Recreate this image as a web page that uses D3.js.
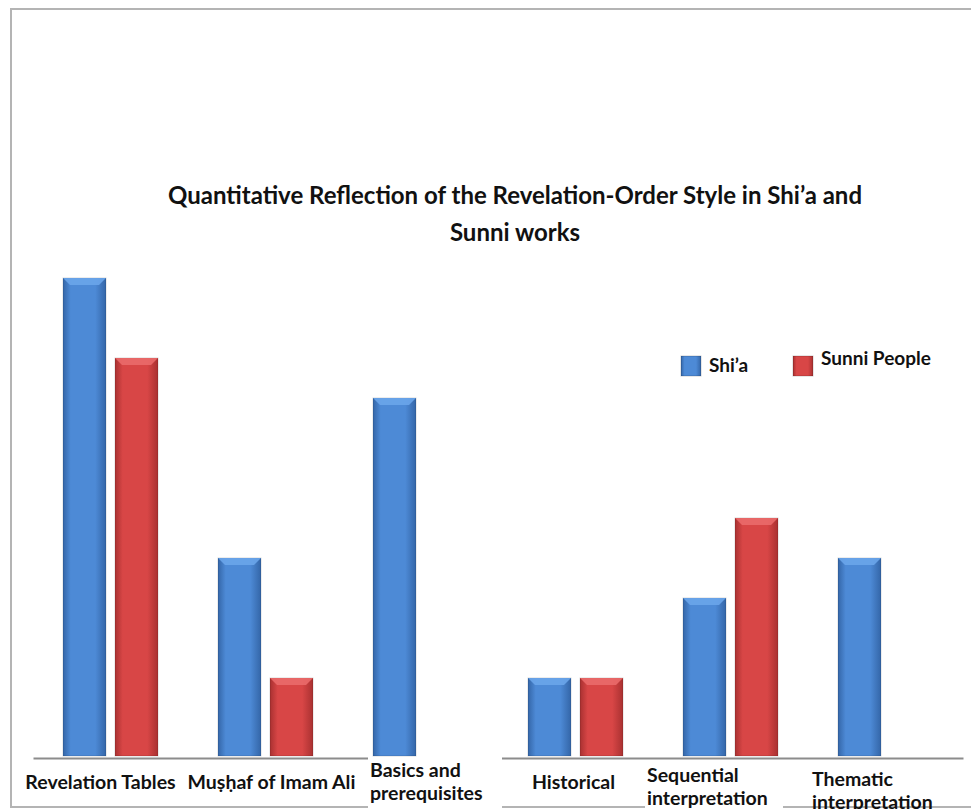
<!DOCTYPE html>
<html>
<head>
<meta charset="utf-8">
<script src="https://cdn.jsdelivr.net/npm/d3@7"></script>
<style>
  body { margin: 0; background: #fff; }
  text { font-family: Lato, "Open Sans", sans-serif; font-weight: bold; fill: #111; }
</style>
</head>
<body>
<div id="chart"></div>
<script>
// data
var categories = ["Revelation Tables", "Mushaf of Imam Ali", "Basics and prerequisites",
                  "Historical", "Sequential interpretation", "Thematic interpretation"];
var labelLines = [["Revelation Tables"], ["Mu\u1E63\u1E25af of Imam Ali"], ["Basics and", "prerequisites"],
                  ["Historical"], ["Sequential", "interpretation"], ["Thematic", "interpretation"]];
var seriesNames = ["Shi\u2019a", "Sunni People"];
var shiaValues  = [12, 5, 9, 2, 4, 5];
var sunniValues = [10, 2, 0, 2, 6, 0];
var titleLines = ["Quantitative Reflection of the Revelation-Order Style in Shi\u2019a and", "Sunni works"];

var width = 971, height = 809;

var svg = d3.select("#chart").append("svg")
  .attr("width", width)
  .attr("height", height);

//Gradients for the bevelled bars
var defs = svg.append("defs");
var palettes = [
  {id: "gBlue", edge: "#3466a8", mid: "#4d8ad6"},
  {id: "gRed",  edge: "#a93131", mid: "#d84646"}
];
palettes.forEach(function(p){
  var g = defs.append("linearGradient").attr("id", p.id)
    .attr("x1", "0%").attr("x2", "100%").attr("y1", "0%").attr("y2", "0%");
  g.append("stop").attr("offset", "0%").attr("stop-color", p.edge);
  g.append("stop").attr("offset", "18%").attr("stop-color", p.mid);
  g.append("stop").attr("offset", "75%").attr("stop-color", p.mid);
  g.append("stop").attr("offset", "100%").attr("stop-color", p.edge);
});

//Frame (left, top, bottom)
var frame = svg.append("g").attr("fill", "none").attr("stroke", "#b4b4b4").attr("stroke-width", 2);
frame.append("path").attr("d", "M11,808 L11,9 L971,9");
frame.append("path").attr("d", "M11,807 L971,807");

//Scales
var x0 = d3.scaleBand().domain(categories).range([33, 963]);
var x1 = d3.scaleBand().domain(seriesNames).range([30, 125]).paddingInner(9 / 52);
var y = d3.scaleLinear().domain([0, 12]).range([758, 278]);

//Axis line
svg.append("g")
  .attr("transform", "translate(0," + y(0) + ")")
  .call(d3.axisBottom(x0).tickSize(0).tickFormat(""))
  .call(function(g){ g.select(".domain").attr("stroke", "#8c8c8c").attr("stroke-width", 2); });

//Bars
var rows = categories.map(function(c, i){
  return [{cat: c, s: seriesNames[0], v: shiaValues[i], fill: "gBlue", top: "#6aa5ea"},
          {cat: c, s: seriesNames[1], v: sunniValues[i], fill: "gRed", top: "#ea6a6a"}];
});
var bars = svg.selectAll("g.bar")
  .data(d3.merge(rows).filter(function(d){ return d.v > 0; }))
  .enter().append("g").attr("class", "bar");

bars.append("rect")
  .attr("x", function(d){ return x0(d.cat) + x1(d.s); })
  .attr("y", function(d){ return y(d.v); })
  .attr("width", x1.bandwidth())
  .attr("height", function(d){ return y(0) - y(d.v) - 2; })
  .attr("fill", function(d){ return "url(#" + d.fill + ")"; })
  .attr("stroke", "rgba(0,0,0,0.15)");

//top bevel
bars.append("path")
  .attr("d", function(d){
    var bx = x0(d.cat) + x1(d.s), by = y(d.v), w = x1.bandwidth();
    return "M" + bx + "," + by + "L" + (bx + w) + "," + by +
      "L" + (bx + w - 7) + "," + (by + 7) + "L" + (bx + 7) + "," + (by + 7) + "Z";
  })
  .attr("fill", function(d){ return d.top; })
  .attr("opacity", 0.9);

//Category labels (white boxes hide the lines behind them)
var labelPos = [
  {anchor: "middle", dx: -10, box: null},
  {anchor: "middle", dx: 6, box: null},
  {anchor: "start", dx: 27, box: [368, 757, 134, 52]},
  {anchor: "middle", dx: -2, box: null},
  {anchor: "start", dx: -6, box: [645, 762, 138, 47]},
  {anchor: "start", dx: 4, box: null}
];
var labels = svg.append("g").attr("class", "labels");
categories.forEach(function(c, i){
  var p = labelPos[i], lines = labelLines[i];
  if (p.box) {
    labels.append("rect").attr("x", p.box[0]).attr("y", p.box[1])
      .attr("width", p.box[2]).attr("height", p.box[3]).attr("fill", "#fff");
  }
  var lx = p.anchor === "middle" ? x0(c) + x0.bandwidth() / 2 + p.dx : x0(c) + p.dx;
  var first = lines.length === 1 ? 789 : [777, 782, 786][[2, 4, 5].indexOf(i)];
  lines.forEach(function(t, j){
    labels.append("text")
      .attr("x", lx)
      .attr("y", first + j * 23)
      .attr("text-anchor", p.anchor)
      .style("font-size", "19.5px")
      .text(t);
  });
});

//Title
svg.selectAll("text.title")
  .data(titleLines)
  .enter().append("text")
  .attr("class", "title")
  .attr("x", 515)
  .attr("y", function(d, i){ return 204 + i * 37; })
  .attr("text-anchor", "middle")
  .style("font-size", "24px")
  .text(function(d){ return d; });

//Legend
var legend = svg.append("g").attr("class", "legend");
var legendX = [681, 793], legendTextY = [372, 365];
seriesNames.forEach(function(s, i){
  legend.append("rect")
    .attr("x", legendX[i]).attr("y", 356)
    .attr("width", 20).attr("height", 20)
    .attr("fill", "url(#" + palettes[i].id + ")")
    .attr("stroke", "rgba(0,0,0,0.2)");
  legend.append("text")
    .attr("x", legendX[i] + 28)
    .attr("y", legendTextY[i])
    .style("font-size", "19px")
    .text(s);
});
</script>
</body>
</html>
